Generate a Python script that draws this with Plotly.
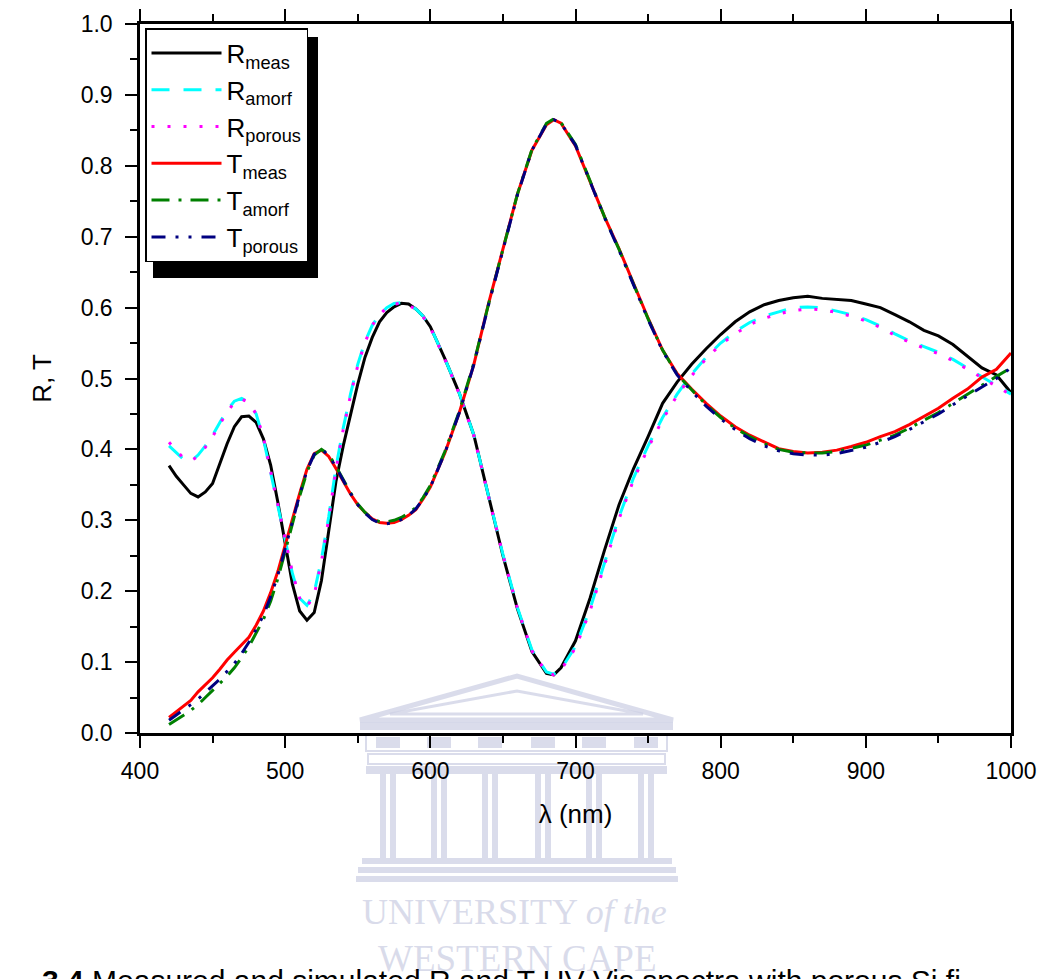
import plotly.graph_objects as go

# ---------------- data ----------------
wl = [420, 425, 430, 435, 440, 445, 450, 455, 460, 465, 470, 475, 480, 485, 490, 495,
      500, 505, 510, 515, 520, 525, 530, 535, 540, 545, 550, 555, 560, 565, 570, 575,
      580, 585, 590, 595, 600, 610, 620, 630, 640, 650, 660, 670, 680, 685, 690, 700,
      710, 720, 730, 740, 750, 760, 770, 780, 790, 800, 810, 820, 830, 840, 850, 860,
      870, 880, 890, 900, 910, 920, 930, 940, 950, 960, 970, 980, 990, 1000]

R_meas = [0.377, 0.362, 0.350, 0.338, 0.333, 0.340, 0.352, 0.380, 0.408, 0.432, 0.446, 0.447,
          0.438, 0.415, 0.378, 0.325, 0.265, 0.210, 0.172, 0.159, 0.170, 0.215, 0.285, 0.355,
          0.405, 0.450, 0.492, 0.530, 0.558, 0.580, 0.593, 0.601, 0.606, 0.605, 0.598, 0.588,
          0.573, 0.528, 0.479, 0.420, 0.333, 0.250, 0.175, 0.115, 0.084, 0.082, 0.092, 0.130,
          0.190, 0.258, 0.322, 0.373, 0.418, 0.465, 0.495, 0.520, 0.542, 0.562, 0.580, 0.594,
          0.604, 0.610, 0.614, 0.616, 0.613, 0.611, 0.610, 0.605, 0.600, 0.590, 0.580, 0.568,
          0.560, 0.548, 0.532, 0.515, 0.505, 0.480]

R_amorf = [0.405, 0.395, 0.386, 0.383, 0.392, 0.405, 0.420, 0.438, 0.455, 0.468, 0.472, 0.466,
           0.450, 0.415, 0.368, 0.322, 0.272, 0.225, 0.190, 0.180, 0.198, 0.245, 0.305, 0.375,
           0.430, 0.478, 0.520, 0.552, 0.575, 0.590, 0.600, 0.606, 0.607, 0.605, 0.598, 0.588,
           0.573, 0.528, 0.479, 0.420, 0.335, 0.252, 0.177, 0.117, 0.086, 0.083, 0.090, 0.122,
           0.175, 0.240, 0.305, 0.360, 0.405, 0.445, 0.478, 0.506, 0.530, 0.550, 0.566, 0.579,
           0.588, 0.594, 0.600, 0.601, 0.600, 0.595, 0.590, 0.583, 0.574, 0.563, 0.553, 0.545,
           0.537, 0.527, 0.515, 0.502, 0.490, 0.478]

R_porous = [0.410, 0.398, 0.388, 0.384, 0.390, 0.403, 0.418, 0.436, 0.453, 0.466, 0.471, 0.466,
            0.450, 0.417, 0.370, 0.323, 0.273, 0.226, 0.190, 0.178, 0.195, 0.242, 0.302, 0.372,
            0.428, 0.476, 0.518, 0.551, 0.575, 0.590, 0.600, 0.605, 0.606, 0.604, 0.597, 0.587,
            0.572, 0.527, 0.478, 0.419, 0.334, 0.251, 0.176, 0.116, 0.085, 0.082, 0.089, 0.120,
            0.172, 0.237, 0.302, 0.357, 0.402, 0.442, 0.476, 0.504, 0.528, 0.548, 0.563, 0.576,
            0.585, 0.591, 0.596, 0.598, 0.597, 0.593, 0.588, 0.581, 0.572, 0.561, 0.551, 0.543,
            0.535, 0.525, 0.513, 0.500, 0.489, 0.477]

T_meas = [0.022, 0.030, 0.038, 0.046, 0.058, 0.068, 0.078, 0.090, 0.103, 0.114, 0.124, 0.135,
          0.152, 0.172, 0.198, 0.228, 0.265, 0.302, 0.338, 0.372, 0.394, 0.399, 0.390, 0.373,
          0.355, 0.337, 0.322, 0.311, 0.302, 0.297, 0.296, 0.297, 0.301, 0.307, 0.315, 0.330,
          0.347, 0.395, 0.452, 0.520, 0.605, 0.683, 0.760, 0.822, 0.858, 0.865, 0.860, 0.828,
          0.778, 0.728, 0.683, 0.633, 0.585, 0.540, 0.507, 0.485, 0.465, 0.447, 0.432, 0.420,
          0.410, 0.401, 0.397, 0.395, 0.396, 0.399, 0.404, 0.410, 0.418, 0.425, 0.435, 0.447,
          0.458, 0.472, 0.485, 0.502, 0.513, 0.536]

T_amorf = [0.012, 0.018, 0.025, 0.032, 0.040, 0.050, 0.060, 0.070, 0.080, 0.092, 0.106, 0.122,
           0.140, 0.160, 0.186, 0.218, 0.256, 0.296, 0.334, 0.368, 0.392, 0.400, 0.393, 0.376,
           0.357, 0.339, 0.323, 0.311, 0.302, 0.298, 0.298, 0.300, 0.304, 0.310, 0.318, 0.332,
           0.349, 0.397, 0.454, 0.522, 0.604, 0.683, 0.760, 0.823, 0.860, 0.866, 0.861, 0.830,
           0.780, 0.728, 0.682, 0.632, 0.584, 0.540, 0.506, 0.484, 0.463, 0.445, 0.430, 0.418,
           0.408, 0.400, 0.396, 0.395, 0.395, 0.397, 0.401, 0.406, 0.413, 0.420, 0.430, 0.441,
           0.452, 0.465, 0.478, 0.491, 0.503, 0.515]

T_porous = [0.018, 0.025, 0.032, 0.040, 0.048, 0.057, 0.066, 0.076, 0.087, 0.098, 0.112, 0.128,
            0.146, 0.166, 0.192, 0.223, 0.260, 0.299, 0.336, 0.370, 0.393, 0.400, 0.392, 0.375,
            0.356, 0.338, 0.322, 0.310, 0.301, 0.296, 0.295, 0.297, 0.301, 0.307, 0.316, 0.330,
            0.347, 0.395, 0.452, 0.520, 0.603, 0.682, 0.759, 0.822, 0.859, 0.865, 0.860, 0.829,
            0.779, 0.727, 0.681, 0.631, 0.583, 0.539, 0.505, 0.482, 0.461, 0.443, 0.428, 0.415,
            0.405, 0.398, 0.394, 0.392, 0.392, 0.394, 0.398, 0.403, 0.410, 0.418, 0.428, 0.439,
            0.450, 0.463, 0.476, 0.488, 0.500, 0.515]

series = [
    ("R<sub>meas</sub>", R_meas, "#000000", "solid"),
    ("R<sub>amorf</sub>", R_amorf, "#00FFFF", "18px,14px"),
    ("R<sub>porous</sub>", R_porous, "#FF00FF", "3px,13px"),
    ("T<sub>meas</sub>", T_meas, "#FF0000", "solid"),
    ("T<sub>amorf</sub>", T_amorf, "#008000", "18px,9px,3px,9px"),
    ("T<sub>porous</sub>", T_porous, "#000080", "14px,10px,3px,10px,3px,10px"),
]

FONT = "Liberation Sans, Arial, Helvetica, sans-serif"
SERIF = "Liberation Serif, Times New Roman, serif"
W, H = 1043, 979
L, R, T, B = 140, 32, 24, 246
PW, PH = W - L - R, H - T - B


def px(x):
    return (x - L) / PW


def py(y):
    return (H - B - y) / PH


fig = go.Figure()
for name, vals, col, dash in series:
    fig.add_trace(go.Scatter(x=wl, y=vals, mode="lines", name=name,
                             line=dict(color=col, width=3, dash=dash)))

# ---------------- watermark (decorative logo) ----------------
WM = "rgba(205,208,228,0.75)"
shapes = []


def rect(x0, y0, x1, y1, fill=WM, line=None):
    shapes.append(dict(type="rect", xref="paper", yref="paper",
                       x0=px(x0), x1=px(x1), y0=py(y1), y1=py(y0),
                       fillcolor=fill, line=dict(width=0 if line is None else 2,
                                                  color=line or "rgba(0,0,0,0)"),
                       layer="below"))


def tri(xl, xr, xa, ya, yb, w):
    p = "M {} {} L {} {} L {} {} Z".format(px(xl), py(yb), px(xa), py(ya), px(xr), py(yb))
    shapes.append(dict(type="path", xref="paper", yref="paper", path=p,
                       line=dict(color=WM, width=w), layer="below"))


tri(360, 673, 517, 676, 720, 5)
tri(390, 643, 517, 691, 714, 3)
rect(360, 722, 673, 730)
rect(366, 734, 667, 751, fill="rgba(0,0,0,0)", line=WM)
for cx in [388, 439, 490, 543, 594, 646]:
    rect(cx - 12, 737, cx + 12, 748)
rect(368, 754, 665, 764, fill="rgba(0,0,0,0)", line=WM)
rect(366, 766, 667, 774)
for cx in [388, 439, 490, 543, 594, 646]:
    rect(cx - 8, 774, cx - 2, 858)
    rect(cx + 2, 774, cx + 8, 858)
rect(362, 858, 672, 864)
rect(358, 867, 676, 873)
rect(356, 876, 678, 882)

# legend shadow
shapes.append(dict(type="rect", xref="paper", yref="paper",
                   x0=px(153), x1=px(318), y0=py(278), y1=py(37),
                   fillcolor="black", line=dict(width=0), layer="above"))

annotations = [
    dict(text="UNIVERSITY <i>of the</i>", x=px(514), y=py(912), xref="paper", yref="paper",
         showarrow=False, xanchor="center", yanchor="middle",
         font=dict(family=SERIF, size=36, color=WM)),
    dict(text="WESTERN CAPE", x=px(517), y=py(958), xref="paper", yref="paper",
         showarrow=False, xanchor="center", yanchor="middle",
         font=dict(family=SERIF, size=37, color=WM)),
    dict(text="<b>3.4</b> Measured and simulated R and T UV-Vis spectra with porous Si fi",
         x=px(40), y=py(962), xref="paper", yref="paper", showarrow=False,
         xanchor="left", yanchor="top", font=dict(family=FONT, size=30, color="black")),
]

axis_common = dict(showline=True, linecolor="black", linewidth=2.5, ticks="outside",
                   tickcolor="black", tickwidth=2, ticklen=12, showgrid=False,
                   zeroline=False, automargin=False,
                   tickfont=dict(family=FONT, size=23, color="black"))

fig.update_layout(
    width=W, height=H,
    margin=dict(l=L, r=R, t=T, b=B, pad=0, autoexpand=False),
    paper_bgcolor="white", plot_bgcolor="white",
    font=dict(family=FONT, color="black"),
    shapes=shapes, annotations=annotations,
    legend=dict(x=px(145), y=py(28), xanchor="left", yanchor="top",
                bgcolor="white", bordercolor="black", borderwidth=1.5,
                font=dict(family=FONT, size=26, color="black"),
                itemwidth=70, tracegroupgap=0),
    xaxis=dict(range=[400, 1000], dtick=100, mirror="ticks",
               title=dict(text="λ (nm)", font=dict(family=FONT, size=26), standoff=22),
               minor=dict(ticks="outside", dtick=50, ticklen=7, tickwidth=2, tickcolor="black"),
               ticklabelstandoff=4, **axis_common),
    yaxis=dict(range=[0, 1.0], dtick=0.1, tickformat=".1f", mirror=True,
               title=dict(text="R, T", font=dict(family=FONT, size=26), standoff=22),
               minor=dict(ticks="outside", dtick=0.05, ticklen=7, tickwidth=2, tickcolor="black"),
               ticklabelstandoff=8, **axis_common),
)

fig.write_html("out.html")
